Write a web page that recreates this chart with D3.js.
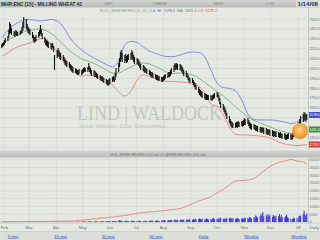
<!DOCTYPE html>
<html>
<head>
<meta charset="utf-8">
<script src="https://cdn.jsdelivr.net/npm/d3@7/dist/d3.min.js"></script>
<style>
html, body { margin: 0; padding: 0; background: #e6e9e3; overflow: hidden; }
svg { display: block; font-family: "Liberation Sans", Arial, sans-serif; }
</style>
</head>
<body>
<div id="chart"></div>
<script>
// Daily bars, one row per week (Mon..Fri), from 29 Jan 2007
const hi = [
    2299, 2309, 2320, 2340, 2360,  2381, 2441, 2523, 2502, 2462,
    2431, 2421, 2441, 2431, 2421,  2431, 2441, 2472, 2523, 2573,
    2553, 2502, 2472, 2462, 2452,  2421, 2391, 2370, 2370, 2391,
    2421, 2441, 2492, 2452, 2411,  2370, 2350, 2340, 2330, 2320,
    2309, 2299, 2309, 2279, 2188,  2238, 2259, 2238, 2218, 2208,
    2188, 2167, 2147, 2137, 2127,  2117, 2096, 2086, 2076, 2066,
    2056, 2046, 2035, 2035, 2046,  2035, 2046, 2056, 2066, 2056,
    2066, 2106, 2076, 2056, 2035,  2035, 2025, 2015, 2005, 1995,
    1985, 1974, 1974, 1964, 1954,  1944, 1934, 1934, 1944, 1954,
    1964, 1974, 1964, 2005, 2056,  2106, 2157, 2218, 2238, 2208,
    2188, 2198, 2177, 2188, 2198,  2208, 2238, 2218, 2188, 2167,
    2157, 2147, 2137, 2117, 2096,  2086, 2076, 2066, 2056, 2046,
    2035, 2025, 2015, 2015, 2005,  1995, 1985, 1985, 1974, 1974,
    1964, 1964, 1974, 1985, 1995,  2005, 2015, 2015, 2035, 2056,
    2086, 2106, 2096, 2106, 2096,  2096, 2086, 2076, 2056, 2035,
    2025, 2005, 1985, 1964, 1954,  1954, 1934, 1914, 1903, 1883,
    1863, 1842, 1832, 1822, 1812,  1802, 1792, 1792, 1782, 1782,
    1782, 1771, 1782, 1792, 1802,  1812, 1802, 1782, 1751, 1711,
    1690, 1670, 1650, 1629, 1599,  1568, 1538, 1518, 1508, 1497,
    1497, 1508, 1508, 1518, 1508,  1518, 1518, 1528, 1548, 1538,
    1548, 1528, 1508, 1497, 1487,  1487, 1477, 1477, 1467, 1467,
    1457, 1457, 1447, 1457, 1447,  1447, 1436, 1426, 1436, 1426,
    1426, 1416, 1416, 1406, 1416,  1406, 1396, 1406, 1396, 1386,
    1396, 1386, 1376, 1386, 1396,  1386, 1376, 1396, 1426, 1457,
    1477, 1487, 1508, 1538, 1568,  1589, 1609, 1599, 1579, 1589
];
const lo = [
    2259, 2269, 2279, 2289, 2309,  2330, 2360, 2401, 2411, 2391,
    2381, 2370, 2391, 2381, 2381,  2391, 2401, 2411, 2431, 2462,
    2452, 2431, 2411, 2401, 2391,  2360, 2330, 2309, 2320, 2330,
    2360, 2381, 2401, 2381, 2350,  2309, 2289, 2279, 2269, 2259,
    2249, 2238, 2259, 2218, 2035,  2157, 2177, 2167, 2147, 2137,
    2127, 2106, 2086, 2076, 2066,  2056, 2035, 2025, 2015, 2005,
    2005, 1995, 1985, 1985, 1995,  1985, 1995, 2005, 2015, 2015,
    2015, 2035, 2015, 1995, 1974,  1974, 1964, 1964, 1954, 1944,
    1934, 1924, 1924, 1914, 1903,  1893, 1883, 1873, 1883, 1893,
    1914, 1924, 1914, 1934, 1964,  2015, 2066, 2117, 2137, 2117,
    2106, 2127, 2106, 2117, 2137,  2137, 2157, 2137, 2117, 2096,
    2096, 2086, 2076, 2056, 2035,  2025, 2015, 2005, 2005, 1995,
    1985, 1974, 1964, 1954, 1954,  1944, 1934, 1934, 1924, 1924,
    1914, 1914, 1924, 1934, 1944,  1954, 1964, 1964, 1974, 1995,
    2015, 2035, 2035, 2046, 2035,  2035, 2025, 2015, 1995, 1974,
    1964, 1954, 1934, 1914, 1903,  1903, 1883, 1863, 1842, 1832,
    1802, 1782, 1771, 1761, 1751,  1741, 1731, 1731, 1731, 1731,
    1731, 1721, 1731, 1741, 1751,  1761, 1751, 1721, 1690, 1650,
    1629, 1609, 1589, 1568, 1538,  1497, 1477, 1457, 1447, 1447,
    1447, 1457, 1447, 1457, 1457,  1467, 1457, 1467, 1477, 1477,
    1487, 1467, 1447, 1436, 1426,  1436, 1426, 1416, 1416, 1406,
    1406, 1396, 1396, 1406, 1386,  1386, 1376, 1376, 1386, 1365,
    1365, 1355, 1365, 1355, 1355,  1355, 1345, 1345, 1345, 1335,
    1335, 1325, 1325, 1335, 1335,  1325, 1325, 1335, 1355, 1386,
    1406, 1416, 1436, 1457, 1487,  1508, 1518, 1528, 1508, 1528
];
const volume = [
    40, 60, 30, 80, 50,  70, 120, 90, 60, 80,
    50, 90, 110, 70, 40,  60, 80, 150, 100, 70,
    120, 90, 60, 80, 110,  70, 50, 90, 130, 60,
    80, 100, 70, 60, 90,  110, 80, 140, 90, 70,
    90, 160, 120, 80, 200,  150, 110, 90, 130, 80,
    100, 140, 120, 90, 160,  130, 170, 110, 150, 120,
    180, 140, 200, 160, 130,  250, 300, 220, 350, 280,
    320, 400, 360, 280, 420,  380, 450, 500, 350, 410,
    420, 380, 520, 460, 390,  500, 440, 560, 480, 610,
    550, 620, 480, 700, 650,  900, 1100, 850, 760, 680,
    720, 640, 800, 580, 690,  610, 880, 740, 650, 560,
    700, 620, 540, 780, 690,  640, 720, 810, 590, 660,
    750, 830, 690, 920, 780,  860, 740, 980, 820, 700,
    900, 1100, 850, 1250, 960,  1050, 1300, 980, 1150, 1400,
    1200, 1600, 1350, 1100, 1500,  1300, 1450, 1700, 1250, 1550,
    1400, 1650, 1200, 1800, 1500,  1350, 1900, 1600, 2100, 1700,
    1800, 2300, 1950, 1600, 2200,  1500, 2000, 2400, 1800, 1700,
    1900, 1600, 2200, 2600, 1800,  2100, 1700, 2500, 2000, 2800,
    1900, 2400, 2100, 1800, 2600,  2300, 2900, 2000, 2500, 2200,
    1800, 2400, 2700, 2100, 1900,  2200, 2600, 1900, 2400, 2800,
    2500, 2100, 3200, 2700, 2300,  3100, 2600, 4200, 3500, 2800,
    3800, 5200, 4100, 6400, 3600,  4500, 3400, 5000, 3900, 4300,
    3200, 4600, 3800, 2900, 4100,  3600, 5100, 2800, 4400, 3300,
    2900, 3800, 4700, 3100, 2600,  2200, 400, 1900, 2800, 2400,
    2600, 300, 3400, 4200, 3800,  5100, 7200, 4600, 3900, 5500
];

// Study values on each Monday, plus the last session
const upperBand = [
    2360, 2441, 2492, 2528, 2548, 2545, 2533, 2538, 2548, 2533,
    2472, 2370, 2294, 2238, 2193, 2157, 2122, 2091, 2066, 2127,
    2289, 2325, 2315, 2269, 2228, 2203, 2183, 2170, 2172, 2188,
    2208, 2218, 2213, 2167, 2035, 1903, 1858, 1848, 1822, 1731,
    1589, 1533, 1528, 1528, 1528, 1518, 1508, 1492, 1508, 1558,
    1578.6
];
const midBand = [
    2299, 2340, 2375, 2406, 2431, 2441, 2452, 2441, 2406, 2355,
    2294, 2233, 2188, 2147, 2127, 2101, 2071, 2035, 2005, 2005,
    2035, 2066, 2096, 2106, 2096, 2071, 2040, 2010, 2000, 2005,
    2000, 1985, 1954, 1908, 1863, 1817, 1771, 1721, 1660, 1609,
    1558, 1523, 1497, 1472, 1447, 1421, 1406, 1391, 1386, 1411,
    1431.4
];
const lowerBand = [
    2177, 2208, 2254, 2279, 2299, 2320, 2345, 2355, 2299, 2218,
    2147, 2076, 2005, 1974, 1985, 1974, 1954, 1934, 1883, 1812,
    1771, 1822, 1934, 1985, 1969, 1949, 1929, 1919, 1919, 1914,
    1908, 1893, 1873, 1802, 1690, 1665, 1579, 1457, 1381, 1376,
    1376, 1370, 1365, 1355, 1335, 1304, 1284, 1274, 1269, 1274,
    1279.2
];
const openInterest = [
    130, 190, 260, 260, 320, 320, 380, 380, 450, 510,
    580, 640, 770, 1090, 1540, 2050, 2440, 2820, 3200, 3650,
    4170, 4810, 5640, 6090, 6410, 6730, 7180, 7560, 8010, 8650,
    9940, 11860, 13460, 14740, 16350, 18590, 20830, 23720, 26280, 26600,
    26920, 27880, 30770, 33970, 36540, 38140, 39100, 40060, 39100, 38460,
    37180
];

const priceTicks = [2550, 2450, 2350, 2250, 2150, 2050, 1950, 1850, 1750, 1650, 1550, 1450, 1350, 1250];
const volTicks = [0, 5000, 10000, 15000, 20000, 25000, 30000, 35000, 40000];
const monthLabels = ['Feb', 'Mar', 'Apr', 'May', 'Jun', 'Jul', 'Aug', 'Sep', 'Oct', 'Nov', 'Dec', "'08"];
const intervalLinks = ['5 min', '15 min', '30 min', '60 min', 'Daily', 'Weekly', 'Monthly'];

function drawChart() {
    const W = 320, H = 240;
    const plotRight = 308.5;
    const priceTop = 7.5, priceBottom = 150.5;
    const volTop = 157.5, volBottom = 223;

    // trading days (weekdays) from the first bar
    const days = [];
    for (let d = new Date(2007, 0, 29); days.length < hi.length; d.setDate(d.getDate() + 1)) {
        if (d.getDay() !== 0 && d.getDay() !== 6) days.push(new Date(d));
    }
    const bandIdx = d3.range(0, days.length, 5).concat([days.length - 1]);
    const bandDays = bandIdx.map(i => days[i]);

    const x = d3.scaleTime()
        .domain([new Date(2007, 0, 27), new Date(2008, 0, 14)])
        .range([0, 309.4]);
    const y = d3.scaleLinear().domain([1250, 2550]).range([147.35, 19.3]);
    const yv = d3.scaleLinear().domain([0, 40000]).range([222, 159.6]);

    const svg = d3.select('#chart').append('svg')
        .attr('width', W)
        .attr('height', H);

    const defs = svg.append('defs');
    const hdr = defs.append('linearGradient').attr('id', 'hdr').attr('x1', 0).attr('y1', 0).attr('x2', 0).attr('y2', 1);
    hdr.append('stop').attr('offset', '0%').attr('stop-color', '#d2d5d1');
    hdr.append('stop').attr('offset', '100%').attr('stop-color', '#b7bab6');
    const dot = defs.append('radialGradient').attr('id', 'dot').attr('cx', '45%').attr('cy', '40%').attr('r', '60%');
    dot.append('stop').attr('offset', '0%').attr('stop-color', '#ffd08a');
    dot.append('stop').attr('offset', '70%').attr('stop-color', '#f0a030');
    dot.append('stop').attr('offset', '100%').attr('stop-color', '#e08a1c');
    defs.append('clipPath').attr('id', 'clipPrice').append('rect')
        .attr('x', 0).attr('y', priceTop).attr('width', plotRight).attr('height', priceBottom - priceTop);
    defs.append('clipPath').attr('id', 'clipVol').append('rect')
        .attr('x', 0).attr('y', volTop).attr('width', plotRight).attr('height', volBottom - volTop);

    svg.append('rect').attr('width', W).attr('height', H).attr('fill', '#e6e9e3');

    // header bar
    svg.append('rect').attr('x', 0).attr('y', 0).attr('width', W).attr('height', priceTop).attr('fill', 'url(#hdr)');
    svg.append('rect').attr('x', 296).attr('y', 0.5).attr('width', 24).attr('height', 6.5).attr('fill', '#dfe1dd');

    const txt = (g, x0, y0, s, size, fill, opts = {}) => {
        const t = g.append('text').attr('x', x0).attr('y', y0)
            .attr('font-size', size).attr('fill', fill).text(s);
        if (opts.weight) t.attr('font-weight', opts.weight);
        if (opts.len) t.attr('textLength', opts.len).attr('lengthAdjust', 'spacingAndGlyphs');
        if (opts.anchor) t.attr('text-anchor', opts.anchor);
        if (opts.family) t.attr('font-family', opts.family);
        if (opts.underline) t.attr('text-decoration', 'underline');
        return t;
    };

    txt(svg, 1, 5.6, 'MHR:ENC [15] - MILLING WHEAT #2', 5, '#1e2a44', { weight: 'bold', len: 81 });
    txt(svg, 104, 5.4, 'LAST', 4, '#7e827e', { len: 9 });
    txt(svg, 153, 5.4, 'CHANGE', 4, '#7e827e', { len: 14 });
    txt(svg, 214, 5.4, 'HIGH', 4, '#7e827e', { len: 9 });
    txt(svg, 266, 5.4, 'LOW', 4, '#7e827e', { len: 8 });
    txt(svg, 297.5, 5.6, '1/14/08', 4.6, '#1e2a44', { weight: 'bold', len: 20.5 });

    // study legend line
    const leg = svg.append('text').attr('y', 11.8).attr('font-size', 3.8);
    leg.append('tspan').attr('x', 100).attr('fill', '#8a8e8a').text('BOLL (ERM HR:ENC15, 20, 2) A');
    leg.append('tspan').attr('dx', 2).attr('fill', '#4a5ad0').text('HI: ' + upperBand[upperBand.length - 1].toFixed(1));
    leg.append('tspan').attr('dx', 2).attr('fill', '#3f9a3f').text('MA: ' + midBand[midBand.length - 1].toFixed(1));
    leg.append('tspan').attr('dx', 2).attr('fill', '#d84a4a').text('LO: ' + lowerBand[lowerBand.length - 1].toFixed(1));

    // grid
    const months = monthLabels.map((m, i) => new Date(2007, 1 + i, 1));
    const grid = svg.append('g').attr('stroke', '#d0d4cc').attr('stroke-width', 0.6);
    priceTicks.forEach(v => {
        grid.append('line').attr('x1', 0).attr('x2', plotRight).attr('y1', y(v)).attr('y2', y(v));
    });
    volTicks.forEach(v => {
        grid.append('line').attr('x1', 0).attr('x2', plotRight).attr('y1', yv(v)).attr('y2', yv(v));
    });
    months.forEach(m => {
        grid.append('line').attr('x1', x(m)).attr('x2', x(m)).attr('y1', 13).attr('y2', priceBottom);
        grid.append('line').attr('x1', x(m)).attr('x2', x(m)).attr('y1', volTop).attr('y2', volBottom);
    });
    svg.append('line').attr('x1', plotRight).attr('x2', plotRight).attr('y1', priceTop).attr('y2', volBottom)
        .attr('stroke', '#b9bdb5').attr('stroke-width', 0.7);

    // watermark
    txt(svg, 77, 120, 'LIND | WALDOCK', 20, '#c4c7c0', { len: 145, family: '"Liberation Serif", "DejaVu Serif", serif' });
    txt(svg, 78, 128, 'Your Vision. Our Expertise.', 5.5, '#c1c4bd', { len: 90 });

    // price panel
    const pricePlot = svg.append('g').attr('clip-path', 'url(#clipPrice)');
    const bandLine = vals => d3.line()
        .x((d, i) => x(bandDays[i]))
        .y(d => y(d))
        .curve(d3.curveMonotoneX)(vals);
    pricePlot.append('path').attr('d', bandLine(upperBand)).attr('fill', 'none').attr('stroke', '#7282d8').attr('stroke-width', 0.9);
    pricePlot.append('path').attr('d', bandLine(midBand)).attr('fill', 'none').attr('stroke', '#65aa65').attr('stroke-width', 0.8);
    pricePlot.append('path').attr('d', bandLine(lowerBand)).attr('fill', 'none').attr('stroke', '#e2857a').attr('stroke-width', 0.9);

    pricePlot.selectAll('.bar')
        .data(days)
        .enter()
        .append('line')
        .attr('class', 'bar')
        .attr('x1', d => x(d)).attr('x2', d => x(d))
        .attr('y1', (d, i) => y(hi[i]))
        .attr('y2', (d, i) => y(lo[i]))
        .attr('stroke', '#111')
        .attr('stroke-width', 1.1);

    // last value boxes sit over the axis, hiding the labels beneath them
    const boxes = [[upperBand, '#3f4fc8'], [midBand, '#3a963a'], [lowerBand, '#d83a3a']]
        .map(([arr, col]) => ({ v: arr[arr.length - 1], col }));

    const axisG = svg.append('g');
    priceTicks
        .filter(v => boxes.every(b => Math.abs(y(b.v) - y(v)) > 5))
        .forEach(v => {
            txt(axisG, 309.4, y(v) + 1.3, d3.format('.1f')(v), 3.5, '#6a6e6a', { len: 10.2 });
        });

    // cursor highlight
    svg.append('circle').attr('cx', 300).attr('cy', 131).attr('r', 8).attr('fill', 'url(#dot)').attr('opacity', 0.95);

    boxes.forEach(b => {
        axisG.append('rect').attr('x', 309).attr('y', y(b.v) - 3).attr('width', 11).attr('height', 6).attr('fill', b.col);
        txt(axisG, 309.5, y(b.v) + 1.3, d3.format('.1f')(b.v), 3.5, '#fff', { len: 10.2 });
    });

    // volume header
    svg.append('rect').attr('x', 0).attr('y', priceBottom).attr('width', W).attr('height', volTop - priceBottom).attr('fill', 'url(#hdr)');
    txt(svg, 110, 155.6, 'VOL (ERM HR:ENC15) vol   OI (ERM HR:ENC15) o/p', 3.8, '#6e726e', { len: 96 });

    // volume panel
    const volPlot = svg.append('g').attr('clip-path', 'url(#clipVol)');
    volPlot.selectAll('.vol')
        .data(days)
        .enter()
        .append('rect')
        .attr('class', 'vol')
        .attr('x', d => x(d) - 0.55)
        .attr('width', 1.1)
        .attr('y', (d, i) => yv(volume[i]))
        .attr('height', (d, i) => yv(0) - yv(volume[i]))
        .attr('fill', '#3b3ccf');
    volPlot.append('path')
        .attr('d', d3.line().x((d, i) => x(bandDays[i])).y(d => yv(d)).curve(d3.curveMonotoneX)(openInterest))
        .attr('fill', 'none').attr('stroke', '#e0786a').attr('stroke-width', 0.8);

    volTicks.forEach(v => {
        const s = String(v);
        txt(axisG, 309.6, yv(v) + 1.3, s, 3.5, '#6a6e6a', { len: s.length * 1.95 });
    });

    // time axis
    svg.append('line').attr('x1', 0).attr('x2', W).attr('y1', volBottom).attr('y2', volBottom)
        .attr('stroke', '#b9bdb5').attr('stroke-width', 0.6);
    months.forEach((m, i) => {
        txt(svg, Math.max(x(m), 3.8), 229.2, monthLabels[i], 4.2, '#6a6e6a', { anchor: 'middle' });
    });
    txt(svg, 309.6, 229.2, 'Daily', 4, '#6a6e6a', { len: 9.6 });

    // interval links
    svg.append('rect').attr('x', 0).attr('y', 231.5).attr('width', W).attr('height', 8.5).attr('fill', '#dcdfd9');
    svg.append('line').attr('x1', 0).attr('x2', W).attr('y1', 231.5).attr('y2', 231.5).attr('stroke', '#c3c6c0').attr('stroke-width', 0.6);
    const linkX = d3.scalePoint().domain(intervalLinks).range([13, 299]);
    intervalLinks.forEach(s => {
        txt(svg, linkX(s), 237.6, s, 4.4, '#3a4cc0', { anchor: 'middle', underline: true });
    });
}

if (document.readyState === 'loading') {
    document.addEventListener('DOMContentLoaded', drawChart);
} else {
    drawChart();
}
</script>
</body>
</html>
